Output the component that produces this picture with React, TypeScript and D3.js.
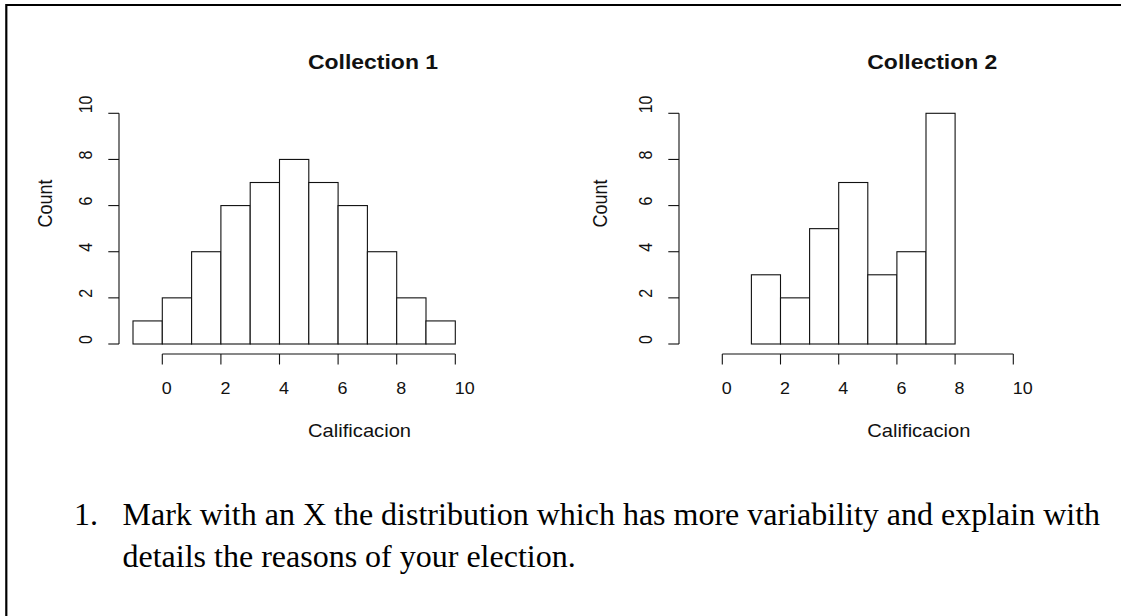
import React from "react";
import * as d3 from "d3";

// ---- data ----
const breaks1 = [-1, 0, 1, 2, 3, 4, 5, 6, 7, 8, 9, 10];
const counts1 = [1, 2, 4, 6, 7, 8, 7, 6, 4, 2, 1];
const breaks2 = [1, 2, 3, 4, 5, 6, 7, 8];
const counts2 = [3, 2, 5, 7, 3, 4, 10];
const xTicks = [0, 2, 4, 6, 8, 10];
const yTicks = [0, 2, 4, 6, 8, 10];
const titles = ["Collection 1", "Collection 2"];
const xLabel = "Calificacion";
const yLabel = "Count";
const questionNumber = "1.";
const questionLines = [
  "Mark with an X the distribution which has more variability and explain with",
  "details the reasons of your election.",
];

const SX = 1.12;
const SANS = "'Liberation Sans', Arial, Helvetica, sans-serif";
const SERIF = "'Liberation Serif', 'Times New Roman', serif";
const INK = "#111";

type PanelProps = {
  breaks: number[];
  counts: number[];
  title: string;
  xRange: [number, number];
  yAxisX: number;
  titleX: number;
  xLabelX: number;
  countX: number;
};

function Panel({ breaks, counts, title, xRange, yAxisX, titleX, xLabelX, countX }: PanelProps) {
  const x = d3.scaleLinear().domain([0, 10]).range(xRange);
  const y = d3.scaleLinear().domain([0, 10]).range([344, 113.3]);
  const xAxisY = 354;
  const bins = counts.map((c, i) => ({ x0: breaks[i], x1: breaks[i + 1], c }));
  return (
    <g>
      {bins.map((b, i) => (
        <rect
          key={i}
          x={x(b.x0)}
          y={y(b.c)}
          width={x(b.x1) - x(b.x0)}
          height={y(0) - y(b.c)}
          fill="white"
          stroke={INK}
          strokeWidth={1.1}
        />
      ))}
      {/* y axis */}
      <line x1={yAxisX} x2={yAxisX} y1={y(0)} y2={y(10)} stroke={INK} strokeWidth={1.1} />
      {yTicks.map((t) => (
        <g key={t}>
          <line x1={yAxisX - 10.7} x2={yAxisX} y1={y(t)} y2={y(t)} stroke={INK} strokeWidth={1.1} />
          <text
            transform={`translate(${yAxisX - 26.7},${y(t)}) scale(${SX},1) rotate(-90)`}
            textAnchor="start"
            fontFamily={SANS}
            fontSize={16}
            fill={INK}
          >
            {t}
          </text>
        </g>
      ))}
      {/* x axis */}
      <line x1={x(0)} x2={x(10)} y1={xAxisY} y2={xAxisY} stroke={INK} strokeWidth={1.1} />
      {xTicks.map((t) => (
        <g key={t}>
          <line x1={x(t)} x2={x(t)} y1={xAxisY} y2={xAxisY + 10.5} stroke={INK} strokeWidth={1.1} />
          <text
            transform={`translate(${x(t) - 0.5},394.3) scale(${SX},1)`}
            textAnchor="start"
            fontFamily={SANS}
            fontSize={16}
            fill={INK}
          >
            {t}
          </text>
        </g>
      ))}
      <text
        transform={`translate(${titleX},69) scale(${SX},1)`}
        fontFamily={SANS}
        fontWeight="bold"
        fontSize={20.5}
        fill={INK}
      >
        {title}
      </text>
      <text
        transform={`translate(${xLabelX},437.3) scale(${SX},1)`}
        fontFamily={SANS}
        fontSize={18}
        fill={INK}
      >
        {xLabel}
      </text>
      <text
        transform={`translate(${countX},227.5) scale(${SX},1) rotate(-90)`}
        textAnchor="start"
        fontFamily={SANS}
        fontSize={18}
        fill={INK}
      >
        {yLabel}
      </text>
    </g>
  );
}

export default function App() {
  return (
    <div style={{ position: "fixed", left: 0, top: 0, width: 1121, height: 616, background: "white" }}>
      <svg width={1121} height={616} style={{ display: "block" }}>
        <rect x={0} y={0} width={1121} height={616} fill="white" />
        {/* frame: top and left edges */}
        <line x1={6.3} x2={1121} y1={5} y2={5} stroke="#000" strokeWidth={2.2} />
        <line x1={6.3} x2={6.3} y1={4} y2={616} stroke="#000" strokeWidth={2.2} />
        <Panel
          breaks={breaks1}
          counts={counts1}
          title={titles[0]}
          xRange={[162.3, 455.3]}
          yAxisX={119}
          titleX={308}
          xLabelX={308}
          countX={52}
        />
        <Panel
          breaks={breaks2}
          counts={counts2}
          title={titles[1]}
          xRange={[722.3, 1013.3]}
          yAxisX={679}
          titleX={867.3}
          xLabelX={867.3}
          countX={607}
        />
        <text x={74} y={525} fontFamily={SERIF} fontSize={32} fill="#000">
          {questionNumber}
        </text>
        {questionLines.map((l, i) => (
          <text key={i} x={122.5} y={525 + i * 42} fontFamily={SERIF} fontSize={32} fill="#000">
            {l}
          </text>
        ))}
      </svg>
    </div>
  );
}
